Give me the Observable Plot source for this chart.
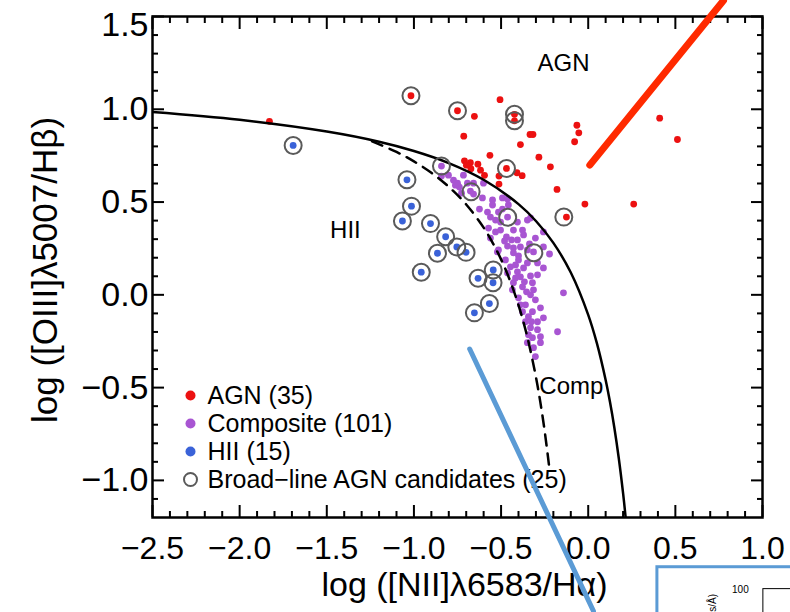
<!DOCTYPE html>
<html><head><meta charset="utf-8">
<script src="https://cdn.jsdelivr.net/npm/d3@7"></script>
<script src="https://cdn.jsdelivr.net/npm/@observablehq/plot@0.6"></script>
<style>html,body{margin:0;padding:0;background:#fff;overflow:hidden;} svg{display:block;}</style>
</head><body><div id="chart"></div>
<script>
// ---- data ----
const agnX = [-1.829,-1.017,-0.750,-0.506,-0.653,-0.423,-0.423,-0.714,-0.334,-0.317,-0.389,-0.283,-0.564,-0.710,-0.676,-0.633,-0.673,-0.469,-0.409,-0.379,-0.595,-0.512,-0.512,-0.217,-0.179,-0.065,-0.054,-0.078,-0.019,0.261,0.410,0.512,-0.125,-0.699,-0.618];
const agnY = [0.935,1.073,0.992,1.052,0.962,0.973,0.938,0.855,0.864,0.864,0.810,0.742,0.752,0.722,0.712,0.704,0.680,0.681,0.658,0.642,0.644,0.640,0.597,0.690,0.568,0.914,0.873,0.825,0.489,0.489,0.952,0.837,0.419,0.699,0.672];
const compX = [-0.842,-0.802,-0.842,-0.773,-0.750,-0.716,-0.739,-0.693,-0.658,-0.601,-0.676,-0.658,-0.727,-0.607,-0.762,-0.549,-0.492,-0.463,-0.458,-0.549,-0.515,-0.578,-0.492,-0.624,-0.561,-0.463,-0.503,-0.349,-0.331,-0.406,-0.377,-0.429,-0.572,-0.503,-0.532,-0.561,-0.469,-0.406,-0.371,-0.303,-0.257,-0.515,-0.463,-0.429,-0.389,-0.349,-0.314,-0.257,-0.521,-0.480,-0.429,-0.400,-0.400,-0.349,-0.337,-0.222,-0.446,-0.406,-0.463,-0.389,-0.331,-0.291,-0.429,-0.377,-0.320,-0.314,-0.331,-0.400,-0.360,-0.320,-0.274,-0.377,-0.343,-0.257,-0.360,-0.142,-0.176,-0.331,-0.291,-0.274,-0.320,-0.274,-0.314,-0.303,-0.343,-0.349,-0.417,-0.371,-0.435,-0.354,-0.303,-0.389,-0.291,-0.326,-0.417,-0.366,-0.475,-0.291,-0.257,-0.440,-0.532];
const compY = [0.694,0.645,0.640,0.618,0.602,0.645,0.581,0.602,0.602,0.602,0.559,0.543,0.548,0.522,0.591,0.511,0.522,0.516,0.484,0.484,0.446,0.446,0.462,0.462,0.419,0.419,0.392,0.403,0.414,0.392,0.349,0.349,0.360,0.349,0.339,0.306,0.312,0.296,0.323,0.306,0.339,0.242,0.263,0.253,0.258,0.242,0.231,0.258,0.231,0.290,0.226,0.210,0.188,0.172,0.274,0.220,0.151,0.124,0.118,0.097,0.102,0.108,0.065,0.043,0.065,0.027,0.000,-0.016,-0.054,-0.091,-0.070,-0.091,-0.118,-0.124,-0.145,0.011,-0.199,-0.177,-0.188,-0.226,-0.231,-0.258,-0.285,-0.333,-0.215,-0.258,0.161,0.145,0.027,0.016,-0.027,-0.054,-0.145,-0.145,0.091,0.070,0.188,0.172,0.145,0.296,0.403];
const hiiX = [-1.693,-1.040,-1.014,-1.066,-0.905,-0.818,-0.754,-0.701,-0.865,-0.958,-0.545,-0.632,-0.546,-0.567,-0.653];
const hiiY = [0.805,0.620,0.478,0.398,0.384,0.313,0.258,0.229,0.224,0.122,0.134,0.089,0.065,-0.047,-0.097];
const blX = [-1.693,-1.040,-1.014,-1.066,-0.905,-0.818,-0.754,-0.701,-0.865,-0.958,-0.545,-0.632,-0.546,-0.567,-0.653,-1.017,-0.750,-0.423,-0.423,-0.469,-0.140,-0.842,-0.672,-0.462,-0.312];
const blY = [0.805,0.620,0.478,0.398,0.384,0.313,0.258,0.229,0.224,0.122,0.134,0.089,0.065,-0.047,-0.097,1.073,0.992,0.973,0.938,0.681,0.419,0.694,0.556,0.418,0.227];

// demarcation curves
const kewleyX = [-2.5,-2.0,-1.5,-1.2,-1.0,-0.8,-0.6,-0.4,-0.3,-0.2,-0.1,0.0,0.05,0.1,0.125,0.15,0.175,0.2,0.215];
const kewleyY = [0.985,0.943,0.880,0.825,0.775,0.710,0.620,0.489,0.398,0.280,0.120,-0.108,-0.262,-0.459,-0.578,-0.716,-0.878,-1.069,-1.202];
const kauffX = [-1.24,-1.1,-1.0,-0.9,-0.8,-0.7,-0.6,-0.55,-0.5,-0.45,-0.4,-0.35,-0.3,-0.275,-0.25,-0.225];
const kauffY = [0.827,0.770,0.719,0.658,0.582,0.487,0.362,0.283,0.191,0.080,-0.056,-0.225,-0.443,-0.577,-0.733,-0.918];

// ticks
const xMajor = [-2.5,-2.0,-1.5,-1.0,-0.5,0.0,0.5,1.0];
const xMinor = [-2.4,-2.3,-2.2,-2.1,-1.9,-1.8,-1.7,-1.6,-1.4,-1.3,-1.2,-1.1,-0.9,-0.8,-0.7,-0.6,-0.4,-0.3,-0.2,-0.1,0.1,0.2,0.3,0.4,0.6,0.7,0.8,0.9];
const yMajor = [-1.0,-0.5,0.0,0.5,1.0,1.5];
const yTopLabel = [1.5];
const yMinor = [-1.1,-0.9,-0.8,-0.7,-0.6,-0.4,-0.3,-0.2,-0.1,0.1,0.2,0.3,0.4,0.6,0.7,0.8,0.9,1.1,1.2,1.3,1.4];

// texts
const xTitle = "log ([NII]\u03bb6583/H\u03b1)";
const yTitle = "log ([OIII]\u03bb5007/H\u03b2)";
const regionText = ["AGN", "HII", "Comp"];
const regionX = [-0.142, -1.393, -0.097];
const regionY = [1.25, 0.349, -0.495];
const legendLabels = ["AGN (35)", "Composite (101)", "HII (15)", "Broad\u2212line AGN candidates (25)"];

// annotation overlay (pointer lines and inset box edge from the surrounding figure)
const redPointerX = [0.009, 0.776];
const redPointerY = [0.699, 1.586];
const bluePointerX = [-0.680, 0.030];
const bluePointerY = [-0.292, -1.704];

// ---- build ----
const RED = "#ec1111", PURPLE = "#a855d2", BLUE = "#3a62d8", RING = "#5a5a5a";
const zipXY = (xs, ys) => xs.map((x, i) => ({x, y: ys[i]}));
const agn = zipXY(agnX, agnY), comp = zipXY(compX, compY), hii = zipXY(hiiX, hiiY), bl = zipXY(blX, blY);
const kewley = zipXY(kewleyX, kewleyY), kauff = zipXY(kauffX, kauffY);
const regions = regionText.map((t, i) => ({t, x: regionX[i], y: regionY[i]}));
const redPtr = zipXY(redPointerX, redPointerY), bluePtr = zipXY(bluePointerX, bluePointerY);
const fmt = d3.format(".1f");
const blank = () => "";
const F = "Liberation Sans, Arial, Helvetica, sans-serif";

const legendColors = [RED, PURPLE, BLUE, null];
const legendDy = [-122, -94, -66, -38];
const legendMarks = legendLabels.flatMap((lab, i) => [
  legendColors[i]
    ? Plot.dot([lab], {frameAnchor: "bottom-left", dx: 38, dy: legendDy[i], r: 5, fill: legendColors[i]})
    : Plot.dot([lab], {frameAnchor: "bottom-left", dx: 38, dy: legendDy[i], r: 6.5, stroke: RING, strokeWidth: 2, fill: "none"}),
  Plot.text([lab], {frameAnchor: "bottom-left", dx: 55, dy: legendDy[i], textAnchor: "start", lineAnchor: "middle", fontSize: 25, fill: "black"})
]);

const chart = Plot.plot({
  width: 790, height: 612,
  marginLeft: 152, marginRight: 28, marginTop: 16, marginBottom: 95,
  x: {domain: [-2.5, 1.0]},
  y: {domain: [-1.2, 1.5]},
  style: {fontFamily: F, color: "black", background: "white"},
  marks: [
    Plot.dot(comp, {x: "x", y: "y", r: 3.4, fill: PURPLE}),
    Plot.dot(agn, {x: "x", y: "y", r: 3.4, fill: RED}),
    Plot.dot(hii, {x: "x", y: "y", r: 3.4, fill: BLUE}),
    Plot.line(kewley, {x: "x", y: "y", curve: "catmull-rom", stroke: "black", strokeWidth: 2.5, clip: true}),
    Plot.line(kauff, {x: "x", y: "y", curve: "catmull-rom", stroke: "black", strokeWidth: 2.5, strokeDasharray: "11,8", clip: true}),
    Plot.dot(bl, {x: "x", y: "y", r: 8.5, stroke: RING, strokeWidth: 2, fill: "none"}),
    Plot.text(regions, {x: "x", y: "y", text: "t", fontSize: 24, fill: "black", textAnchor: "middle"}),
    ...legendMarks,
    // axes: inward ticks on all sides
    Plot.axisX(xMajor, {anchor: "bottom", tickSize: -12, tickPadding: 31, tickFormat: fmt, fontSize: 32, strokeWidth: 2, label: null}),
    Plot.axisX(xMinor, {anchor: "bottom", tickSize: -6, tickFormat: blank, strokeWidth: 2, label: null}),
    Plot.axisX(xMajor, {anchor: "top", tickSize: -12, tickFormat: blank, strokeWidth: 2, label: null}),
    Plot.axisX(xMinor, {anchor: "top", tickSize: -6, tickFormat: blank, strokeWidth: 2, label: null}),
    Plot.axisY(yMajor, {anchor: "left", tickSize: -12, tickPadding: 16, tickFormat: d => d === 1.5 ? "" : fmt(d), fontSize: 34, strokeWidth: 2, label: null}),
    Plot.axisY(yTopLabel, {anchor: "left", tickSize: 0, tickPadding: 4, dy: 9, tickFormat: fmt, fontSize: 34, label: null}),
    Plot.axisY(yMinor, {anchor: "left", tickSize: -6, tickFormat: blank, strokeWidth: 2, label: null}),
    Plot.axisY(yMajor, {anchor: "right", tickSize: -12, tickFormat: blank, strokeWidth: 2, label: null}),
    Plot.axisY(yMinor, {anchor: "right", tickSize: -6, tickFormat: blank, strokeWidth: 2, label: null}),
    Plot.frame({stroke: "black", strokeWidth: 2.5}),
    Plot.text([xTitle], {frameAnchor: "bottom", dx: 7, dy: 68, lineAnchor: "middle", textAnchor: "middle", fontSize: 34, fill: "black"}),
    Plot.text([yTitle], {frameAnchor: "left", dx: -107, dy: 3, rotate: -90, lineAnchor: "middle", textAnchor: "middle", fontSize: 35, fill: "black"}),
    // overlay from the surrounding figure
    Plot.line(redPtr, {x: "x", y: "y", stroke: "#ff2a00", strokeWidth: 7}),
    Plot.line(bluePtr, {x: "x", y: "y", stroke: "#5b9bd5", strokeWidth: 5}),
    Plot.rect([{x1: 0.397, x2: 1.4, y1: -1.95, y2: -1.468}], {x1: "x1", x2: "x2", y1: "y1", y2: "y2", fill: "none", stroke: "#5b9bd5", strokeWidth: 3}),
    Plot.text(["100"], {x: 0.873, y: -1.591, fontSize: 10, fill: "black"}),
    Plot.text(["s/\u00c5)"], {x: 0.713, y: -1.66, rotate: -90, fontSize: 10, fill: "black"}),
    Plot.rect([{x1: 1.005, x2: 1.4, y1: -1.95, y2: -1.586}], {x1: "x1", x2: "x2", y1: "y1", y2: "y2", fill: "none", stroke: "black", strokeWidth: 1})
  ]
});
document.getElementById("chart").appendChild(chart);
</script></body></html>
